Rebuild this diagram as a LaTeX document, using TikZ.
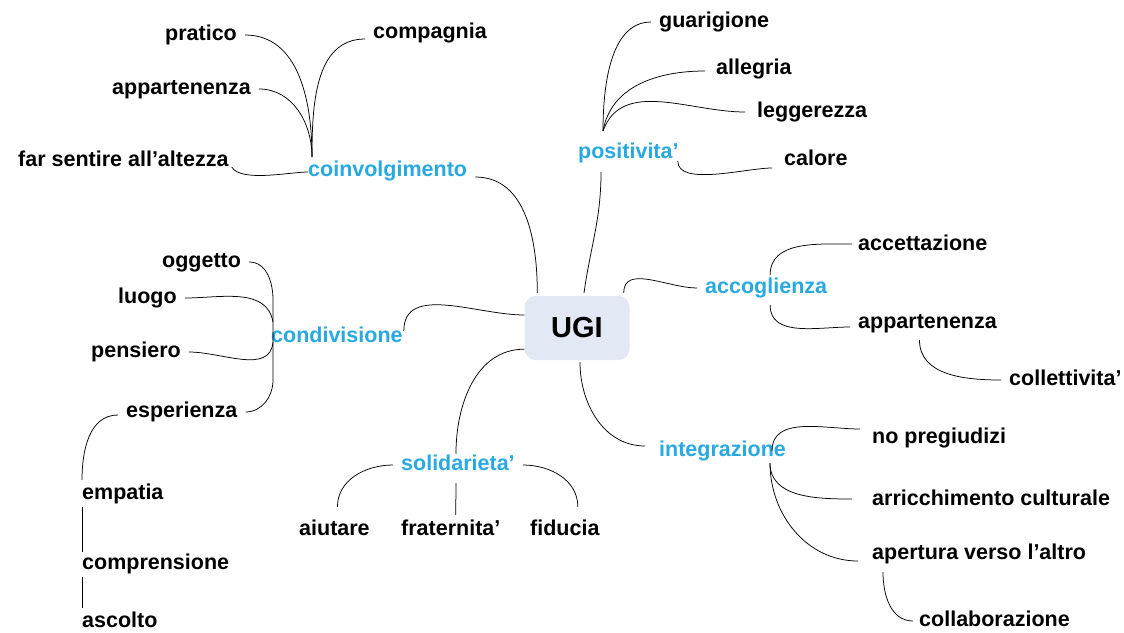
\documentclass[tikz,border=0pt]{standalone}
\usepackage{fontspec}
\setmainfont{Liberation Sans}
\usetikzlibrary{calc}
\definecolor{topic}{HTML}{29A9E1}
\definecolor{ugifill}{HTML}{E3E8F5}
\tikzset{% node and connector styles
    t/.style={anchor=west, font=\fontsize{21.5}{26}\selectfont\bfseries,
      inner xsep=8pt, inner ysep=2pt, text height=15.5pt, text depth=4.5pt,
      yshift=-2pt},
    s/.style={t, text=topic},
    root/.style={rectangle, rounded corners=11pt, fill=ugifill,
      minimum width=105pt, minimum height=64pt,
      font=\fontsize{29}{34}\selectfont\bfseries},
    e/.style={line width=0.75pt}}

\begin{document}
\begin{tikzpicture}[x=1pt,y=-1pt]
  \useasboundingbox (0,0) rectangle (1124,632);

  \node[root] (ugi) at (577,328) {UGI};

  % coinvolgimento
  \node[s] (coinv) at (300,169) {coinvolgimento};
  \node[t] (pratico) at (157,33) {pratico};
  \node[t] (appart1) at (104,87) {appartenenza};
  \node[t] (farsentire) at (10,159) {far sentire all'altezza};
  \node[t] (compagnia) at (365,31) {compagnia};
  \coordinate (cj) at (312,157);

  % positivita'
  \node[s] (posit) at (570,151) {positivita'};
  \node[t] (guarigione) at (651,20) {guarigione};
  \node[t] (allegria) at (708,67) {allegria};
  \node[t] (leggerezza) at (749,110) {leggerezza};
  \node[t] (calore) at (776,158) {calore};
  \coordinate (pj) at (603,131);

  % accoglienza
  \node[s] (accogl) at (697,286) {accoglienza};
  \node[t] (accett) at (850,243) {accettazione};
  \node[t] (appart2) at (850,321) {appartenenza};
  \node[t] (collett) at (1001,378) {collettivita'};

  % integrazione
  \node[s] (integr) at (651,449) {integrazione};
  \node[t] (nopreg) at (864,436) {no pregiudizi};
  \node[t] (arricch) at (864,498) {arricchimento culturale};
  \node[t] (apertura) at (864,552) {apertura verso l'altro};
  \node[t] (collab) at (911,619) {collaborazione};
  \coordinate (ij) at (770,463);

  % condivisione
  \node[s] (condiv) at (263,335) {condivisione};
  \node[t] (oggetto) at (154,260) {oggetto};
  \node[t] (luogo) at (110,296) {luogo};
  \node[t] (pensiero) at (83,350) {pensiero};
  \node[t] (esperienza) at (118,410) {esperienza};
  \node[t] (empatia) at (74,492) {empatia};
  \node[t] (comprensione) at (74,562) {comprensione};
  \node[t] (ascolto) at (74,620) {ascolto};
  \coordinate (ct) at (273,300);
  \coordinate (cb) at (273,380);

  % solidarieta'
  \node[s] (solid) at (393,463) {solidarieta'};
  \node[t] (aiutare) at (291,528) {aiutare};
  \node[t] (fratern) at (393,528) {fraternita'};
  \node[t] (fiducia) at (522,528) {fiducia};

  % main branches
  \draw[e] ($(coinv.east)+(0,6)$) to[out=0,in=90] ($(ugi.north west)+(13,-3)$);
  \draw[e] ($(ugi.north)+(7,-3)$) to[out=82,in=-90] ($(posit.south west)+(31,7)$);
  \draw[e] ($(ugi.north east)+(-6,-3)$) to[out=90,in=180] (accogl.west);
  \draw[e] ($(ugi.south)+(3,2)$) to[out=-90,in=180] ($(integr.west)+(-6,-5)$);
  \draw[e] ($(condiv.east)+(-7,-6)$) to[out=90,in=180] ($(ugi.west)+(0,-13)$);
  \draw[e] ($(ugi.south west)+(0,-11)$) to[out=180,in=90] ($(solid.north)+(-2,1)$);

  % coinvolgimento leaves
  \draw[e] (pratico.east) to[out=0,in=90] (cj);
  \draw[e] (appart1.east) to[out=0,in=90] (cj);
  \draw[e] ($(compagnia.west)+(0,6)$) to[out=180,in=90] (cj);
  \draw[e] ($(farsentire.east)+(-5,6)$) to[out=-60,in=180,looseness=0.6] ($(coinv.west)+(8,1)$);

  % positivita' leaves
  \draw[e] (guarigione.west) to[out=180,in=90,looseness=0.9] (pj);
  \draw[e] ($(allegria.west)+(-3,2)$) to[out=180,in=80] (pj);
  \draw[e] ($(leggerezza.west)+(-4,0)$) to[out=180,in=70] (pj);
  \draw[e] ($(posit.east)+(-9,8)$) to[out=-90,in=180,looseness=0.7] ($(calore.west)+(-4,8)$);

  % accoglienza leaves
  \draw[e] ($(accogl.north)+(4,-1)$) to[out=90,in=180] ($(accett.west)+(2,-1)$);
  \draw[e] ($(accogl.south)+(4,5)$) to[out=-90,in=180] ($(appart2.west)+(0,4)$);
  \draw[e] ($(appart2.south)+(-8,5)$) to[out=-90,in=180] (collett.west);

  % integrazione leaves
  \draw[e] ($(integr.north east)+(-22,12)$) to[out=90,in=180] ($(nopreg.west)+(-4,-9)$);
  \draw[e] (ij) to[out=-90,in=180] ($(arricch.west)+(-12,-1)$);
  \draw[e] (ij) to[out=-90,in=180] ($(apertura.west)+(-6,7)$);
  \draw[e] ($(apertura.south west)+(19,6)$) to[out=-90,in=180] ($(collab.west)+(2,0)$);

  % condivisione leaves
  \draw[e] (oggetto.east) to[out=0,in=90] (ct) -- (cb) to[out=-90,in=0] (esperienza.east);
  \draw[e] (luogo.east) to[out=0,in=100] ($(ct)+(0,22)$);
  \draw[e] (pensiero.east) to[out=0,in=-95] ($(ct)+(0,42)$);
  \draw[e] ($(esperienza.west)+(0,3)$) to[out=180,in=90] ($(empatia.north west)+(8,-2)$);
  \draw[e] ($(empatia.south west)+(8,1)$) -- ($(comprensione.north west)+(8,0)$);
  \draw[e] ($(comprensione.south west)+(8,1)$) -- ($(ascolto.north west)+(8,-2)$);

  % solidarieta' leaves
  \draw[e] (solid.west) to[out=180,in=90] ($(aiutare.north)+(3,-11)$);
  \draw[e] (solid.east) to[out=0,in=90] ($(fiducia.north)+(13,-11)$);
  \draw[e] ($(solid.south)+(-2,6)$) -- ($(fratern.north)+(5,-3)$);
\end{tikzpicture}
\end{document}
